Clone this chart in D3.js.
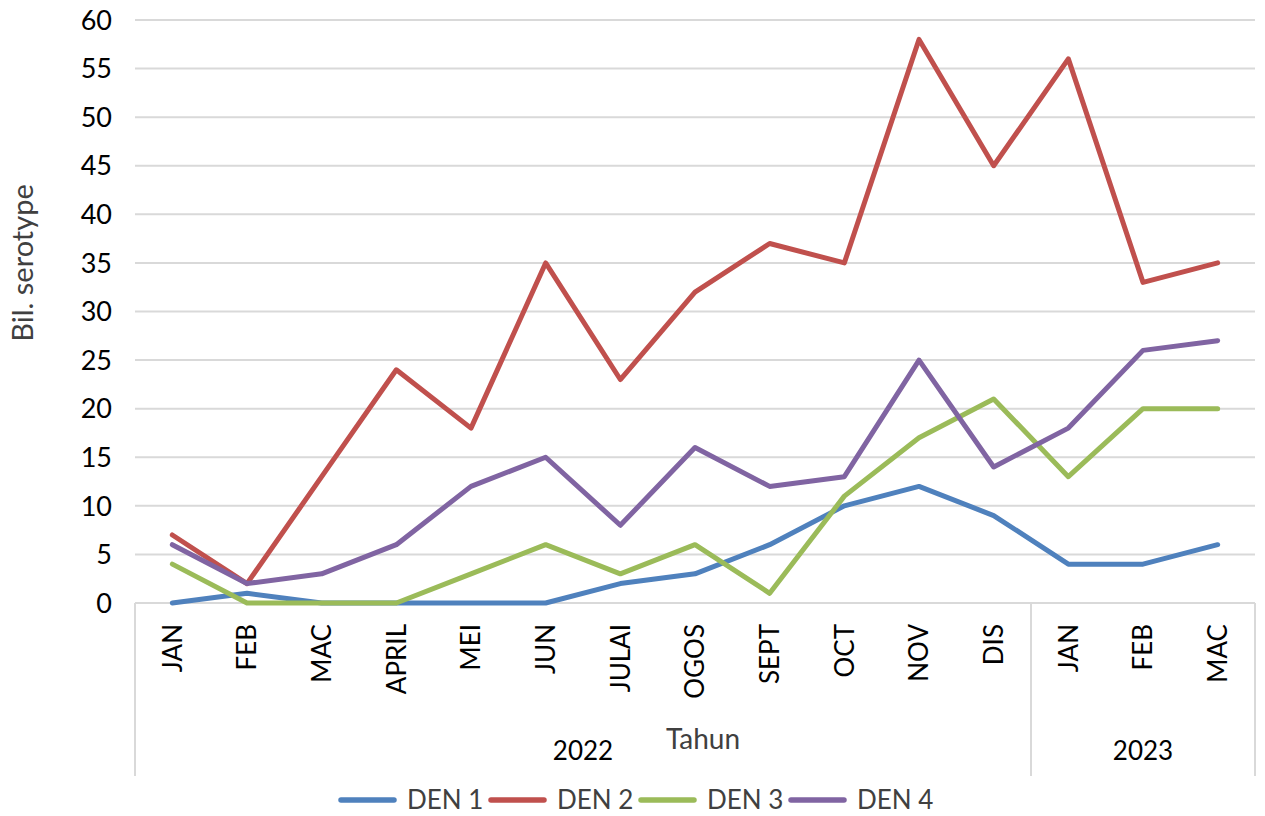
<!DOCTYPE html>
<meta charset="utf-8">
<script src="https://d3js.org/d3.v7.min.js"></script>
<style>
  body { margin: 0; background: #fff; }
  text { font-family: Lato, 'Open Sans', sans-serif; }
</style>
<div id="chart"></div>
<script>
// data
var months = ["JAN","FEB","MAC","APRIL","MEI","JUN","JULAI","OGOS","SEPT","OCT","NOV","DIS","JAN","FEB","MAC"];
var years = [{name: "2022", from: 0, to: 12}, {name: "2023", from: 12, to: 15}];
var den1 = [0,1,0,0,0,0,2,3,6,10,12,9,4,4,6];
var den2 = [7,2,13,24,18,35,23,32,37,35,58,45,56,33,35];
var den3 = [4,0,0,0,3,6,3,6,1,11,17,21,13,20,20];
var den4 = [6,2,3,6,12,15,8,16,12,13,25,14,18,26,27];
var seriesNames = ["DEN 1","DEN 2","DEN 3","DEN 4"];
var colors = ["#4f81bd","#c0504d","#9bbb59","#8064a2"];
var yTicks = [0,5,10,15,20,25,30,35,40,45,50,55,60];

var series = [den1, den2, den3, den4];

var W = 1265, H = 816;
var plotL = 135, plotR = 1255, plotT = 20, plotB = 603;

var svg = d3.select("#chart").append("svg")
  .attr("width", W).attr("height", H);

var x = d3.scaleBand()
  .domain(d3.range(months.length))
  .range([plotL, plotR]);

var y = d3.scaleLinear()
  .domain([0, 60])
  .range([plotB, plotT]);

// gridlines
svg.append("g")
  .selectAll("line")
  .data(yTicks.filter(function(d){ return d > 0; }))
  .enter().append("line")
    .attr("x1", plotL).attr("x2", plotR)
    .attr("y1", function(d){ return y(d); })
    .attr("y2", function(d){ return y(d); })
    .attr("stroke", "#d9d9d9")
    .attr("stroke-width", 2);

// y tick labels
svg.append("g")
  .selectAll("text")
  .data(yTicks)
  .enter().append("text")
    .attr("x", 112)
    .attr("y", function(d){ return y(d); })
    .attr("dy", "0.36em")
    .attr("text-anchor", "end")
    .style("font-size", "27px")
    .style("fill", "#000")
    .text(function(d){ return d; });

// y axis title
svg.append("text")
  .attr("transform", "translate(23,263) rotate(-90)")
  .attr("dy", "0.35em")
  .attr("text-anchor", "middle")
  .style("font-size", "29px")
  .style("fill", "#404040")
  .text("Bil. serotype");

// category axis: baseline and group dividers
svg.append("line")
  .attr("x1", plotL).attr("x2", plotR)
  .attr("y1", plotB).attr("y2", plotB)
  .attr("stroke", "#d9d9d9").attr("stroke-width", 2);

var dividers = [0, 12, 15];
svg.append("g")
  .selectAll("line")
  .data(dividers)
  .enter().append("line")
    .attr("x1", function(d){ return d < months.length ? x(d) : plotR; })
    .attr("x2", function(d){ return d < months.length ? x(d) : plotR; })
    .attr("y1", plotB).attr("y2", 776)
    .attr("stroke", "#d9d9d9").attr("stroke-width", 2);

// month labels
svg.append("g")
  .selectAll("text")
  .data(months)
  .enter().append("text")
    .attr("transform", function(d, i){
      return "translate(" + (x(i) + x.bandwidth()/2) + ",624) rotate(-90)";
    })
    .attr("dy", "0.36em")
    .attr("text-anchor", "end")
    .style("font-size", "26px")
    .style("fill", "#000")
    .text(function(d){ return d; });

// year labels
svg.append("g")
  .selectAll("text")
  .data(years)
  .enter().append("text")
    .attr("x", function(d){ return (x(d.from) + (d.to < months.length ? x(d.to) : plotR)) / 2; })
    .attr("y", 760)
    .attr("text-anchor", "middle")
    .style("font-size", "26px")
    .style("fill", "#000")
    .text(function(d){ return d.name; });

// x axis title
svg.append("text")
  .attr("x", 703).attr("y", 749)
  .attr("text-anchor", "middle")
  .style("font-size", "28px")
  .style("fill", "#404040")
  .text("Tahun");

// lines
var line = d3.line()
  .x(function(d, i){ return x(i) + x.bandwidth()/2; })
  .y(function(d){ return y(d); });

svg.append("g")
  .selectAll("path")
  .data(series)
  .enter().append("path")
    .attr("d", line)
    .attr("fill", "none")
    .attr("stroke", function(d, i){ return colors[i]; })
    .attr("stroke-width", 5)
    .attr("stroke-linejoin", "round")
    .attr("stroke-linecap", "round");

// legend
var legendX = d3.scalePoint().domain(seriesNames).range([341, 791]);
var lg = svg.append("g")
  .selectAll("g")
  .data(seriesNames)
  .enter().append("g")
    .attr("transform", function(d){ return "translate(" + legendX(d) + ",800)"; });
lg.append("line")
  .attr("x1", 0).attr("x2", 53)
  .attr("stroke", function(d, i){ return colors[i]; })
  .attr("stroke-width", 5.5)
  .attr("stroke-linecap", "round");
lg.append("text")
  .attr("x", 66)
  .attr("dy", "0.36em")
  .style("font-size", "26px")
  .style("fill", "#404040")
  .text(function(d){ return d; });
</script>
